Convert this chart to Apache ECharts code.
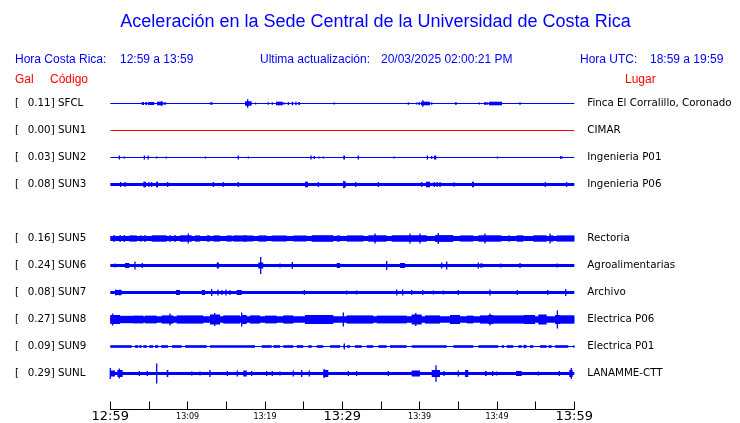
<!DOCTYPE html>
<html>
<head>
<meta charset="utf-8">
<script src="https://cdn.jsdelivr.net/npm/echarts@6/dist/echarts.min.js"></script>
<style>
html,body{margin:0;padding:0;background:#fff;}
#chart{width:740px;height:423px;}
</style>
</head>
<body>
<div id="chart"></div>
<script>
// ---------------- DATA ----------------
const title = 'Aceleración en la Sede Central de la Universidad de Costa Rica';
const horaCR = '12:59 a 13:59';
const horaUTC = '18:59 a 19:59';
const actualizacion = '20/03/2025 02:00:21 PM';

const codes   = ['SFCL','SUN1','SUN2','SUN3','SUN5','SUN6','SUN7','SUN8','SUN9','SUNL'];
const galVals = ['0.11','0.00','0.03','0.08','0.16','0.24','0.08','0.27','0.09','0.29'];
const lugares = ['Finca El Corralillo, Coronado','CIMAR','Ingenieria P01','Ingenieria P06',
                 'Rectoria','Agroalimentarias','Archivo','Electrica P06','Electrica P01','LANAMME-CTT'];
const slots   = [0,1,2,3,5,6,7,8,9,10];          // row slot (slot 4 is empty)
const baseAmp = [0.5,0.5,0.5,1.5,2.5,1.5,1.5,3.3,0.5,1.5]; // background noise half-amplitude

// tick labels every 5 minutes starting 12:59 (minutes 0..60)
const tickLabels = ['12:59','','13:09','','13:19','','13:29','','13:39','','13:49','','13:59'];
const bigLabels  = ['12:59','13:29','13:59'];

// events: [start minute, end minute, half-amplitude]
const sfclEvents = [
 [4.06,4.36,1.5],[4.53,4.78,1.5],[4.88,5.69,1.5],[6.04,6.85,1.8],[6.56,6.65,2.3],[6.98,7.16,1.5],
 [12.89,13.24,1.2],[17.42,18.28,2.2],[17.68,17.85,4.3],[18.79,18.79,1],[20.43,20.43,1.3],[20.95,20.95,1.3],
 [21.43,22.29,1.8],[22.46,22.46,1.3],[22.94,23.11,1.5],[23.46,23.66,1.8],[23.92,24.1,1.8],[24.31,24.53,1.5],
 [28.97,28.97,1],[38.54,38.54,1.3],[39.62,39.62,1],[39.83,40.05,1.3],[40.18,41.35,1.8],[40.35,40.5,3.3],
 [41.56,41.56,1.3],[44.57,44.8,1.3],[47.72,47.72,1],[48.32,48.67,1.3],[48.8,48.8,1.3],[48.97,50.65,1.8],
 [52.98,52.98,1.3]
];
const sun1Events = [];
const sun2Events = [
 [1.17,1.17,2],[1.81,1.81,1],[4.4,4.4,2],[4.8,4.97,2],[6.0,6.0,1],[7.24,7.24,1],[12.3,12.3,1],
 [16.55,16.55,2],[17.85,17.85,1],[25.95,25.95,2],[26.38,26.38,1.5],[27.0,27.0,1],[27.55,27.55,1],
 [30.13,30.35,2],[32.07,32.07,2],[36.69,36.69,1],[41.0,41.0,2],[41.56,41.56,1.5],[41.86,42.16,2],
 [50.05,50.05,1],[58.24,58.24,1.5],[58.45,58.45,1]
];
const sun3Events = [
 [1.34,1.34,2.5],[1.9,1.9,2.5],[4.27,4.62,2.8],[5.0,5.0,2.5],[5.35,5.35,2.5],[5.91,6.17,2.8],[7.42,7.42,2.5],
 [13.32,13.32,2.5],[14.6,14.6,2.5],[16.55,16.55,2.5],[25.18,25.57,2.8],[26.9,26.9,2.5],[30.13,30.44,3.0],
 [30.2,30.2,3.8],[31.73,31.73,2.5],[34.66,34.66,2.5],[40.27,40.27,2.5],[40.83,41.35,2.8],[41.9,41.9,2.5],
 [42.25,42.25,2.5],[42.64,42.64,2.5],[44.45,44.45,2.3],[46.78,47.03,2.8],[56.25,56.25,2.5],[59.0,59.0,2.5]
];
const sun5Events = [
 [0.48,0.48,3.5],[1.27,1.27,3.5],[1.81,1.81,3.5],[2.46,3.41,3.1],[3.84,4.06,3.1],[4.49,4.49,3.5],
 [5.35,7.29,3.2],[7.72,7.72,3.5],[8.37,8.37,3.5],[9.01,10.53,3.2],[10.09,10.09,5],[10.95,11.6,3.1],
 [12.47,12.89,3.1],[13.32,14.19,3.1],[15.05,15.7,3.1],[15.91,16.78,3.1],[17.2,17.64,3.1],[16.77,18.49,3.0],
 [19.14,20.22,3.1],[20.87,22.81,3.0],[23.66,25.4,3.0],[26.04,28.84,3.3],[29.28,29.71,3.1],[30.57,32.72,3.1],
 [33.36,35.74,3.2],[34.23,34.23,5],[36.39,40.91,3.2],[38.75,38.75,5],[40.05,40.05,5],[41.99,44.35,3.4],
 [42.41,42.41,5.5],[45.21,46.94,3.1],[47.59,50.39,3.2],[48.45,48.45,5],[50.39,50.61,3.1],[51.47,51.69,3.1],
 [52.55,53.41,3.2],[54.7,56.43,3.2],[56.86,56.86,5],[56.86,57.28,3.1],[57.72,60,3.1]
];
const sun6Events = [
 [0.61,0.61,2],[1.9,2.46,2.5],[3.19,3.19,4],[4.14,4.14,2.5],[13.76,14.06,3],[19.14,19.78,3],[19.45,19.45,8.5],
 [21.94,21.94,2],[23.53,23.53,3.5],[29.28,29.71,2.5],[35.74,35.74,4.5],[37.46,38.11,2.5],[42.85,42.85,3],
 [43.5,43.5,4],[47.59,47.59,3],[47.81,48.19,2],[50.48,50.48,2],[52.98,52.98,2.5],[57.8,57.8,2]
];
const sun7Events = [
 [0.61,1.47,2.5],[0.74,0.74,3],[1.25,1.25,3],[8.5,9.01,2.5],[11.82,12.25,2.5],[13.11,13.11,3.5],
 [13.93,13.93,3],[14.44,14.44,2.5],[14.96,14.96,3],[15.48,15.48,2.5],[16.34,16.99,2.5],[25.09,25.09,2.5],
 [30.57,30.57,2],[31.86,31.86,2],[37.04,37.04,3],[37.81,37.81,3],[38.97,38.97,2.5],[40.4,40.4,2.5],
 [41.77,41.77,2],[43.06,43.06,2],[45.0,45.0,2.5],[49.1,49.1,3],[52.63,52.63,2.5],[56.56,56.56,2.5],
 [58.89,58.89,3.5]
];
const sun8Events = [
 [0,1.25,4.5],[0.3,0.3,6],[1.25,2.97,3.7],[2.97,4.27,3.9],[4.49,6.0,3.9],[6.65,8.15,4.1],[7.72,7.72,6],[8.59,12.03,4.1],
 [12.89,14.19,5],[13.5,13.5,6.5],[14.61,16.77,4.1],[16.99,17.64,4.5],[16.99,16.99,7],[18.06,19.35,4.1],
 [20.0,21.52,3.9],[22.37,23.66,4.1],[25.18,28.84,4.5],[30.13,30.13,7],[30.57,34.01,4.1],[34.45,38.33,3.9],
 [38.97,40.27,5],[39.5,39.5,6.5],[40.69,42.63,4.1],[43.93,45.22,4.5],[46.09,46.94,3.9],[47.81,50.39,4.1],
 [49.1,49.1,6],[48.88,49.53,4.5],[50.39,53.41,4.1],[53.41,54.92,4.5],[55.35,56.43,5],[57.51,58.16,4.5],
 [57.81,57.81,9],[58.16,60,4.2]
];
const sun9Events = [
 [0,2.77,1.3],[3.19,3.62,1.3],[3.75,4.06,1.3],[4.27,4.71,1.3],[5.04,5.56,1.3],[5.78,6.21,1.3],[6.56,7.46,1.3],
 [7.98,9.23,1.3],[9.68,12.47,1.3],[12.89,17.9,1.3],[17.85,18.71,1.3],[19.58,20.87,1.3],[21.08,21.94,1.3],
 [22.37,23.66,1.3],[24.1,24.96,1.3],[25.6,26.04,1.3],[26.69,27.54,1.3],[28.41,29.71,1.3],[30.13,30.35,1.3],
 [30.26,30.26,3],[30.57,31.0,1.3],[31.64,32.51,1.3],[33.16,34.01,1.3],[34.66,35.74,1.3],[36.17,38.33,1.3],
 [38.97,43.5,1.3],[44.35,46.94,1.3],[47.59,50.17,1.3],[50.61,50.91,1.3],[51.26,52.11,1.3],[52.76,53.2,1.3],
 [53.41,53.84,1.3],[53.6,53.6,1.8],[54.27,54.7,1.3],[55.57,56.43,1.3],[56.64,57.08,1.3],[57.51,59.22,1.3],
 [59.87,60,1.3]
];
const sunlEvents = [
 [0,0,5.5],[0,0.61,3],[0.91,1.6,3.5],[1.16,1.16,5],[3.75,3.75,2.5],[4.78,4.78,2.5],[6.0,6.0,10],
 [7.29,7.5,3.5],[10.53,10.53,2],[11.6,11.6,2],[12.89,12.89,3.5],[15.13,15.13,2.5],[16.42,16.42,3],
 [17.2,17.64,3],[18.28,18.28,2.5],[20.22,20.22,2.5],[20.95,20.95,2.5],[21.94,21.94,2],[23.66,23.66,3],
 [24.75,24.75,3.5],[25.73,25.73,3],[27.54,28.19,3.5],[27.67,27.67,4.5],[30.78,30.78,2.5],[31.86,31.86,2.5],
 [35.95,35.95,2.5],[38.97,40.05,3],[41.56,42.63,3.5],[42.12,42.12,8.3],[43.15,43.15,2.5],[45.0,45.0,3],
 [45.87,46.29,3.5],[48.45,48.67,2.5],[49.45,49.45,2.5],[49.97,49.97,2],[52.46,53.2,2.5],[55.35,55.35,2],
 [58.06,58.06,2.5],[59.35,59.79,3.5],[59.61,59.61,5.5]
];
const allEvents = [sfclEvents,sun1Events,sun2Events,sun3Events,sun5Events,sun6Events,sun7Events,sun8Events,sun9Events,sunlEvents];
const traceColors = ['#0000ff','#ff0000','#0000ff','#0000ff','#0000ff','#0000ff','#0000ff','#0000ff','#0000ff','#0000ff'];

// ---------------- LAYOUT ----------------
const ROW_PX = 27;            // px per row slot
const GRID_TOP = 76.5;        // slot -1 at top
const rowY = s => GRID_TOP + ROW_PX * (s + 1);
const BLUE = '#0000ff', RED = '#ff0000';
const headFont = '12px "Liberation Sans", Arial, sans-serif';
const stFont = '10.3px "DejaVu Sans", sans-serif';

const chart = echarts.init(document.getElementById('chart'), null, {renderer:'canvas'});

const series = codes.map((c, k) => {
  const slot = slots[k];
  const data = [[0, 60, baseAmp[k], slot]].concat(allEvents[k].map(e => [e[0], e[1], e[2], slot]));
  const color = traceColors[k];
  return {
    type: 'custom',
    name: c,
    silent: true,
    animation: false,
    data: data,
    renderItem: function (params, api) {
      const t0 = api.value(0), t1 = api.value(1), a = api.value(2) / ROW_PX, s = api.value(3);
      const p0 = api.coord([t0, s - a]);
      const p1 = api.coord([t1, s + a]);
      let x = p0[0], w = p1[0] - p0[0];
      if (w < 1.3) { const cx = (p0[0] + p1[0]) / 2; x = cx - 0.65; w = 1.3; }
      return { type: 'rect', shape: { x: x, y: p0[1], width: w, height: p1[1] - p0[1] }, style: { fill: color } };
    }
  };
});

const graphics = [];
graphics.push({type:'text', style:{text:title, x:375.5, y:22, align:'center', verticalAlign:'middle', font:'18px "Liberation Sans", Arial, sans-serif', fill:BLUE}});
graphics.push({type:'text', style:{text:'Hora Costa Rica:', x:15, y:60, verticalAlign:'middle', font:headFont, fill:BLUE}});
graphics.push({type:'text', style:{text:horaCR, x:120, y:60, verticalAlign:'middle', font:headFont, fill:BLUE}});
graphics.push({type:'text', style:{text:'Ultima actualización:', x:260, y:60, verticalAlign:'middle', font:headFont, fill:BLUE}});
graphics.push({type:'text', style:{text:actualizacion, x:381, y:60, verticalAlign:'middle', font:headFont, fill:BLUE}});
graphics.push({type:'text', style:{text:'Hora UTC:', x:580, y:60, verticalAlign:'middle', font:headFont, fill:BLUE}});
graphics.push({type:'text', style:{text:horaUTC, x:650, y:60, verticalAlign:'middle', font:headFont, fill:BLUE}});
graphics.push({type:'text', style:{text:'Gal', x:15, y:80, verticalAlign:'middle', font:headFont, fill:RED}});
graphics.push({type:'text', style:{text:'Código', x:50, y:80, verticalAlign:'middle', font:headFont, fill:RED}});
graphics.push({type:'text', style:{text:'Lugar', x:625, y:80, verticalAlign:'middle', font:headFont, fill:RED}});
codes.forEach((c, k) => {
  const y = rowY(slots[k]);
  graphics.push({type:'text', style:{text:'[', x:15, y:y, verticalAlign:'middle', font:stFont, fill:'#000'}});
  graphics.push({type:'text', style:{text:galVals[k] + '] ' + c, x:27.7, y:y, verticalAlign:'middle', font:stFont, fill:'#000'}});
  graphics.push({type:'text', style:{text:lugares[k], x:587.3, y:y, verticalAlign:'middle', font:stFont, fill:'#000'}});
});

chart.setOption({
  animation: false,
  backgroundColor: '#fff',
  grid: { left: 110.3, right: 740 - 574.3, top: GRID_TOP, bottom: 423 - 409.5, containLabel: false },
  xAxis: {
    type: 'value', min: 0, max: 60, interval: 5, position: 'bottom',
    axisLine: { show: true, onZero: false, lineStyle: { color: '#000', width: 1 } },
    axisTick: { show: true, inside: true, length: 8, lineStyle: { color: '#000', width: 1 } },
    splitLine: { show: false },
    axisLabel: {
      margin: 0, color: '#000', showMinLabel: true, showMaxLabel: true, hideOverlap: false,
      formatter: function (v) {
        const s = tickLabels[Math.round(v / 5)];
        if (!s) return '';
        return bigLabels.indexOf(s) >= 0 ? '{b|' + s + '}' : '{s|' + s + '}';
      },
      rich: {
        b: { fontSize: 13, fontFamily: '"DejaVu Sans", sans-serif', color: '#000', lineHeight: 14 },
        s: { fontSize: 8, fontFamily: '"DejaVu Sans", sans-serif', color: '#000', lineHeight: 14 }
      }
    }
  },
  yAxis: { type: 'value', min: -1, max: 11.3333, inverse: true, show: false },
  graphic: graphics,
  series: series
});
</script>
</body>
</html>
